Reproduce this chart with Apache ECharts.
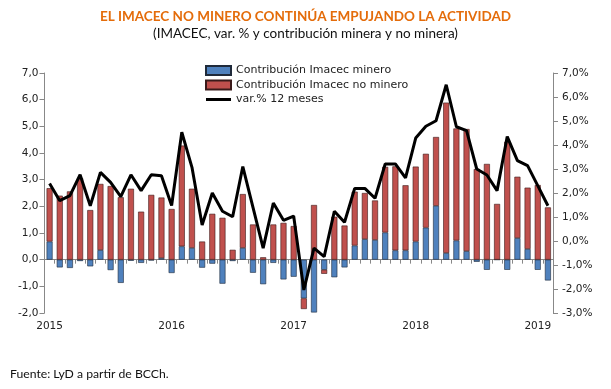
<!DOCTYPE html>
<html>
<head>
<meta charset="utf-8">
<script src="https://cdn.jsdelivr.net/npm/echarts@6/dist/echarts.min.js"></script>
<style>html,body{margin:0;padding:0;background:#fff}#c{width:611px;height:389px}</style>
</head>
<body>
<div id="c"></div>
<script>
var years = [2015, 2016, 2017, 2018, 2019];
var categories = [];
years.forEach(function (y) { for (var m = 1; m <= 12; m++) { if (categories.length < 50) categories.push(y + '-' + (m < 10 ? '0' + m : m)); } });

var minero = [0.68,-0.29,-0.31,-0.05,-0.25,0.36,-0.39,-0.87,-0.04,-0.12,-0.03,0.06,
  -0.50,0.50,0.44,-0.30,-0.15,-0.90,-0.05,0.44,-0.49,-0.92,-0.12,-0.74,
  -0.64,-1.45,-1.98,-0.38,-0.66,-0.29,0.53,0.77,0.74,1.02,0.35,0.35,
  0.68,1.20,2.02,0.25,0.72,0.32,-0.08,-0.38,0.0,-0.38,0.81,0.40,
  -0.38,-0.78];
var noMinero = [2.0,2.4,2.56,3.06,1.86,2.48,2.76,2.34,2.66,1.8,2.43,2.27,
  1.9,3.78,2.22,0.68,1.72,1.57,0.37,2.02,1.32,0.09,1.32,1.38,
  1.26,-0.40,2.05,-0.15,1.61,1.28,2.02,1.73,1.48,2.46,3.15,2.44,
  2.81,2.77,2.58,5.64,4.2,4.58,3.4,3.59,2.09,4.42,2.3,2.3,
  2.8,1.96];
var var12m = [2.40,1.68,1.89,2.76,1.47,2.86,2.44,1.85,2.76,2.10,2.76,2.72,
  1.48,4.53,3.07,0.67,2.00,1.24,1.01,3.10,1.40,-0.30,1.58,0.86,
  1.04,-2.04,-0.30,-0.65,1.24,0.78,2.19,2.19,1.78,3.21,3.21,2.63,
  4.29,4.78,5.01,6.51,4.76,4.60,3.00,2.75,2.10,4.35,3.35,3.14,
  2.31,1.47];

var chart = echarts.init(document.getElementById('c'));
var lbl = { fontFamily: 'DejaVu Sans', fontSize: 10.5, color: '#222' };
function fmt1(v) { return v.toFixed(1).replace('.', ','); }
chart.setOption({
  animation: false,
  title: [
    { text: 'EL IMACEC NO MINERO CONTINÚA EMPUJANDO LA ACTIVIDAD', left: 'center', top: 5,
      textStyle: { fontFamily: 'Lato', fontWeight: 'bold', fontSize: 13.5, color: '#E46C0A' } },
    { text: '(IMACEC, var. % y contribución minera y no minera)', left: 'center', top: 22,
      textStyle: { fontFamily: 'Lato', fontWeight: 'normal', fontSize: 13.5, color: '#111' } },
    { text: 'Fuente: LyD a partir de BCCh.', left: 5, top: 363,
      textStyle: { fontFamily: 'Lato', fontWeight: 'normal', fontSize: 12.2, color: '#111' } }
  ],
  legend: {
    orient: 'vertical', left: 200, top: 60, itemGap: 3.5, itemWidth: 25, itemHeight: 9,
    textStyle: { fontFamily: 'DejaVu Sans', fontSize: 11, color: '#222' },
    data: [
      { name: 'Contribución Imacec minero', icon: 'rect' },
      { name: 'Contribución Imacec no minero', icon: 'rect' },
      { name: 'var.% 12 meses', icon: 'path://M0,0 L0.01,0 L0,0.01 Z M0,3 L25,3 L25,6 L0,6 Z M0,9 L0.01,9 L0,8.99 Z',
        itemStyle: { color: '#000', borderWidth: 0 } }
    ]
  },
  grid: { left: 44.5, right: 58, top: 73, bottom: 76, containLabel: false },
  xAxis: [
    { type: 'category', data: categories, boundaryGap: true,
      axisLine: { onZero: true, lineStyle: { color: '#888', width: 1 } },
      axisTick: { show: true, interval: 0, length: 4, lineStyle: { color: '#888' } },
      axisLabel: { show: false } },
    { type: 'category', data: categories, boundaryGap: true, position: 'bottom',
      axisLine: { show: false }, axisTick: { show: false },
      axisLabel: Object.assign({ interval: 0, margin: 8,
        formatter: function (v) { return v.slice(5) === '01' ? v.slice(0, 4) : ''; } }, lbl) }
  ],
  yAxis: [
    { type: 'value', min: -2, max: 7, interval: 1, position: 'left',
      splitLine: { show: false },
      axisLine: { show: true, lineStyle: { color: '#888' } },
      axisTick: { show: true, length: 5, lineStyle: { color: '#888' } },
      axisLabel: Object.assign({ margin: 6, formatter: fmt1 }, lbl) },
    { type: 'value', min: -3, max: 7, interval: 1, position: 'right',
      splitLine: { show: false },
      axisLine: { show: true, lineStyle: { color: '#888' } },
      axisTick: { show: true, length: 5, lineStyle: { color: '#888' } },
      axisLabel: Object.assign({ margin: 9, formatter: function (v) { return fmt1(v) + '%'; } }, lbl) }
  ],
  series: [
    { name: 'Contribución Imacec minero', type: 'bar', stack: 'a', xAxisIndex: 0, yAxisIndex: 0,
      barWidth: 6, data: minero,
      itemStyle: { color: '#4F81BD', borderColor: '#1f2a3a', borderWidth: 0.6 } },
    { name: 'Contribución Imacec no minero', type: 'bar', stack: 'a', xAxisIndex: 0, yAxisIndex: 0,
      barWidth: 6, data: noMinero,
      itemStyle: { color: '#C0504D', borderColor: '#3a1a1a', borderWidth: 0.6 } },
    { name: 'var.% 12 meses', type: 'line', xAxisIndex: 0, yAxisIndex: 1, data: var12m,
      symbol: 'none', lineStyle: { color: '#000', width: 3 }, itemStyle: { color: '#000' }, z: 5 }
  ]
});
</script>
</body>
</html>
